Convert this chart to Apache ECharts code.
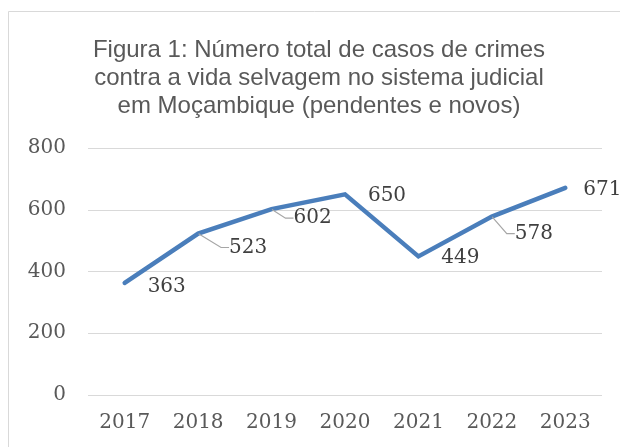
<!DOCTYPE html>
<html>
<head>
<meta charset="utf-8">
<script src="https://cdn.jsdelivr.net/npm/echarts@6/dist/echarts.min.js"></script>
<style>
  html, body { margin: 0; padding: 0; background: #fff; }
  #chart { width: 620px; height: 447px; }
</style>
</head>
<body>
<div id="chart"></div>
<script>
// dados
const anos = ['2017', '2018', '2019', '2020', '2021', '2022', '2023']
const casos = [363, 523, 602, 650, 449, 578, 671]
const tituloLinhas = [
  'Figura 1: Número total de casos de crimes',
  'contra a vida selvagem no sistema judicial',
  'em Moçambique (pendentes e novos)'
]

// deslocamento dos rótulos (centro do texto em relação ao ponto)
const rotuloDesloc = [[42, 4], [50, 14], [41, 9], [42, 1], [42, 1], [42, 17], [37, 2]]
const comGuia = [false, true, true, false, false, true, false]

const serif = 'DejaVu Serif'
const chart = echarts.init(document.getElementById('chart'))

chart.setOption({
  animation: false,
  backgroundColor: '#fff',
  title: {
    text: tituloLinhas.join('\n'),
    left: 314,
    top: 31,
    textAlign: 'center',
    textStyle: {
      fontFamily: 'Liberation Sans',
      fontSize: 24,
      fontWeight: 'normal',
      lineHeight: 28,
      color: '#595959'
    }
  },
  graphic: [{
    type: 'rect',
    shape: { x: 8.5, y: 11.5, width: 640, height: 460 },
    style: { fill: 'none', stroke: '#d9d9d9', lineWidth: 1 },
    silent: true
  }],
  grid: { left: 88, right: 18, top: 148, bottom: 52 },
  xAxis: {
    type: 'category',
    data: anos,
    boundaryGap: true,
    axisLine: { show: false },
    axisTick: { show: false },
    axisLabel: { fontFamily: serif, fontSize: 20, color: '#595959', margin: 18 }
  },
  yAxis: {
    type: 'value',
    min: 0,
    max: 800,
    interval: 200,
    axisLine: { show: false },
    axisTick: { show: false },
    axisLabel: { fontFamily: serif, fontSize: 20, color: '#595959', margin: 22 },
    splitLine: { lineStyle: { color: '#d9d9d9', width: 1 } }
  },
  series: [{
    type: 'line',
    data: casos.map((v, i) => ({
      value: v,
      labelLine: { show: comGuia[i] }
    })),
    symbol: 'circle',
    symbolSize: 1,
    showSymbol: true,
    itemStyle: { color: 'rgba(0,0,0,0)' },
    lineStyle: { color: '#4a7ebb', width: 4.5, cap: 'round', join: 'miter' },
    label: {
      show: true,
      position: 'inside',
      fontFamily: serif,
      fontSize: 20,
      color: '#404040',
      padding: [0, 0, 0, 8]
    },
    labelLine: {
      length2: 8,
      lineStyle: { color: '#a6a6a6', width: 1.2 }
    },
    labelLayout: (p) => ({
      dx: rotuloDesloc[p.dataIndex][0] - 4,
      dy: rotuloDesloc[p.dataIndex][1]
    })
  }]
})
</script>
</body>
</html>
